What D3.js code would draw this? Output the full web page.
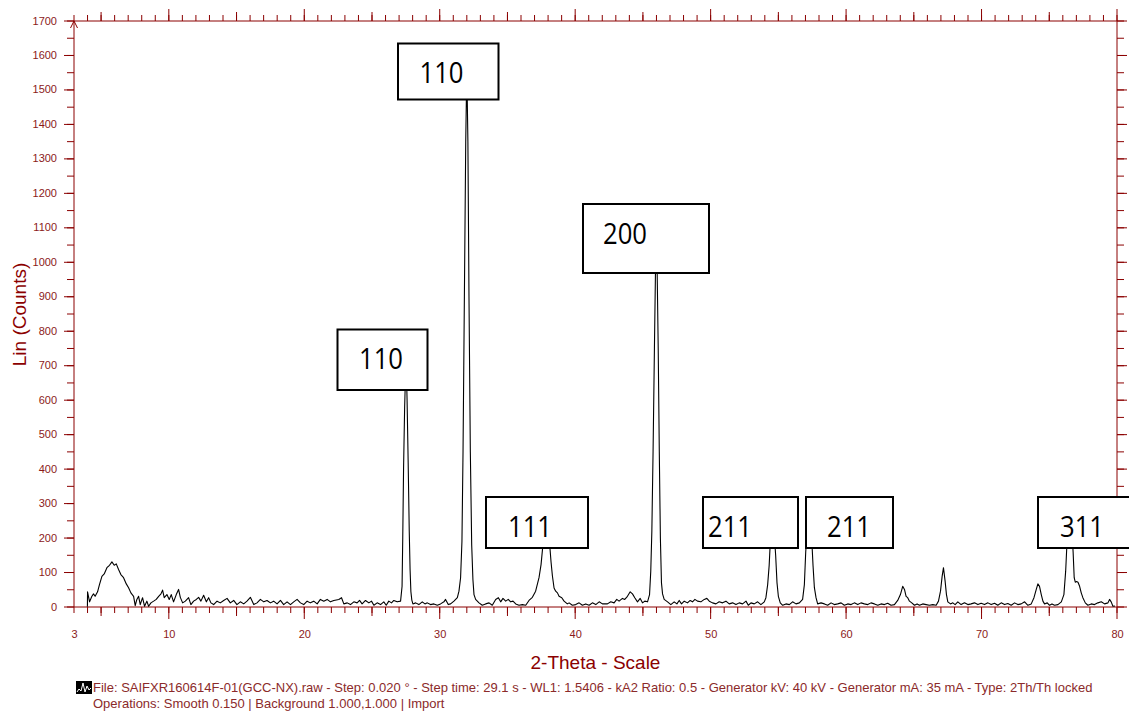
<!DOCTYPE html>
<html>
<head>
<meta charset="utf-8">
<title>XRD pattern</title>
<script src="https://cdn.jsdelivr.net/npm/d3@7"></script>
<style>
  body { margin: 0; background: #fff; }
  svg { display: block; }
  .axis text { font-family: "Liberation Sans", Arial, sans-serif; font-size: 11px; fill: #8b1a1a; }
  .axis line { stroke: #8b0000; }
</style>
</head>
<body>
<div id="chart"></div>
<script>
var scanLow = [
  [3.99,1],[4.00,44],[4.15,15],[4.32,31],[4.44,38],[4.56,31],[4.74,44],[4.88,65],[5.06,89],[5.23,96],
  [5.43,114],[5.62,121],[5.80,131],[5.97,121],[6.12,125],[6.29,109],[6.46,94],[6.66,85],[6.86,67],[7.03,56],
  [7.20,41],[7.40,31],[7.52,4],[7.64,22],[7.77,31],[7.89,7],[8.06,27],[8.21,2],[8.38,17],[8.51,2],
  [8.68,12],[8.88,17],[9.07,22],[9.25,31],[9.42,38],[9.54,49],[9.66,27],[9.86,36],[10.03,22],[10.18,36],
  [10.35,15],[10.55,36],[10.72,51],[10.85,28],[11.02,12],[11.22,17],[11.46,27],[11.63,7],[11.83,17],[12.03,22],
  [12.20,28],[12.37,17],[12.57,34],[12.77,15],[12.94,27],[13.11,12],[13.31,7],[13.56,17],[13.80,12],[14.05,19],
  [14.30,25],[14.54,12],[14.79,19],[15.03,7],[15.28,15],[15.53,9],[15.77,17],[16.02,28],[16.27,7],[16.51,12],
  [16.76,22],[17.01,15],[17.25,19],[17.50,12],[17.74,17],[17.99,9],[18.24,19],[18.48,7],[18.73,15],[18.98,7],
  [19.22,15],[19.47,22],[19.72,12],[19.96,7],[20.21,17],[20.45,12],[20.70,17],[20.95,9],[21.19,22],[21.44,17],
  [21.69,22],[21.93,15],[22.18,19]
];
var scanMid = [
  [22.55,22],[22.75,27],[22.92,9],[23.17,12],[23.41,7],[23.66,15],[23.90,12],[24.08,19],[24.27,9],[24.52,19],
  [24.77,12],[24.96,17],[25.14,5],[25.38,12],[25.63,7],[25.87,15],[26.05,5],[26.24,17],[26.44,12],[26.61,19],
  [26.86,15],[27.11,17],[27.22,60],[27.27,200],[27.33,400],[27.41,580],[27.48,680],[27.53,700],[27.59,600],[27.67,420],
  [27.75,220],[27.81,110],[27.87,45],[27.94,20],[28.02,9],[28.22,12],[28.46,7],[28.71,15],[28.91,9],[29.08,12],
  [29.32,7],[29.57,9],[29.82,5],[30.06,9],[30.31,15],[30.43,22],[30.63,7],[30.80,9],[31.05,17],[31.30,27],
  [31.42,46],[31.54,85],[31.64,190],[31.72,450],[31.82,900],[31.92,1350],[32.00,1560],[32.08,1350],[32.16,900],[32.26,450],
  [32.36,180],[32.45,80],[32.53,36],[32.65,22],[32.90,12],[33.14,5],[33.39,9],[33.64,12],[33.88,5],[34.13,22],
  [34.33,27],[34.50,15],[34.67,25],[34.87,17],[35.06,22],[35.24,15],[35.41,17],[35.61,9],[35.85,5],[36.10,7],
  [36.35,5],[36.59,19],[36.84,28],[37.08,46],[37.33,85],[37.48,123],[37.63,185],[37.75,225],[37.87,240],[38.00,225],
  [38.12,180],[38.22,130],[38.32,90],[38.44,55],[38.56,46],[38.69,41],[38.81,31],[39.01,27],[39.18,17],[39.42,9],
  [39.55,12],[39.79,5],[40.04,7],[40.29,12],[40.53,5],[40.78,9],[41.03,5],[41.27,12],[41.52,7],[41.77,15],
  [42.01,9]
];
var scanHigh = [
  [42.38,9],[42.63,15],[42.87,12],[43.07,22],[43.24,17],[43.49,25],[43.66,22],[43.86,31],[44.06,44],[44.23,38],
  [44.40,27],[44.60,15],[44.80,25],[44.97,12],[45.14,17],[45.34,15],[45.49,36],[45.58,104],[45.66,220],[45.75,450],
  [45.85,750],[45.93,980],[45.99,1060],[46.05,980],[46.13,750],[46.21,450],[46.29,200],[46.37,70],[46.45,38],[46.57,22],
  [46.82,15],[47.06,7],[47.31,15],[47.51,9],[47.68,19],[47.85,9],[48.05,17],[48.29,12],[48.49,19],[48.66,15],
  [48.84,22],[49.03,17],[49.28,15],[49.53,22],[49.72,25],[49.90,17],[50.14,12],[50.39,9],[50.63,15],[50.88,12],
  [51.13,17],[51.37,9],[51.62,12],[51.87,7],[52.11,12],[52.36,9],[52.61,17],[52.78,5],[52.98,12],[53.22,9],
  [53.47,15],[53.71,7],[53.96,15],[54.08,27],[54.21,65],[54.32,120],[54.42,200],[54.52,240],[54.60,245],[54.70,210],
  [54.80,150],[54.90,70],[55.00,31],[55.14,12],[55.32,5],[55.56,9],[55.81,7],[56.05,15],[56.30,9],[56.55,12],
  [56.79,22],[56.92,65],[57.02,160],[57.12,220],[57.24,250],[57.34,250],[57.46,200],[57.56,120],[57.66,56],[57.78,27],
  [57.90,9],[58.15,12],[58.40,9],[58.64,5],[58.89,12],[59.13,7],[59.38,9],[59.63,12],[59.87,5],[60.12,9],
  [60.37,7],[60.61,12],[60.86,7],[61.10,12]
];
var scanTail = [
  [61.35,9],[61.60,7],[61.84,12],[62.09,9],[62.34,5],[62.58,9],[62.83,7],[63.07,11],[63.32,5],[63.57,7],
  [63.81,19],[64.01,36],[64.18,60],[64.31,51],[64.43,31],[64.55,27],[64.68,17],[64.85,12],[65.05,5],[65.24,9],
  [65.42,5],[65.66,9],[65.91,7],[66.15,5],[66.40,7],[66.65,5],[66.82,17],[66.97,46],[67.09,89],[67.19,114],
  [67.31,75],[67.41,36],[67.51,15],[67.71,9],[67.88,12],[68.05,7],[68.25,15],[68.49,7],[68.74,12],[68.99,7],
  [69.23,9],[69.48,12],[69.73,7],[69.97,11],[70.22,7],[70.47,12],[70.71,7],[70.96,11],[71.20,5],[71.45,12],
  [71.70,7],[71.94,10],[72.19,5],[72.44,12],[72.68,7],[72.93,9],[73.18,15],[73.42,5],[73.67,9],[73.87,27],
  [74.04,51],[74.16,67],[74.28,60],[74.41,36],[74.53,17],[74.65,9],[74.85,12],[75.02,5],[75.20,9],[75.39,5],
  [75.64,7],[75.89,15],[76.08,36],[76.21,104],[76.30,180],[76.40,240],[76.50,270],[76.58,270],[76.66,230],[76.76,160],
  [76.84,85],[76.92,72],[77.02,74],[77.12,72],[77.24,60],[77.36,41],[77.48,27],[77.66,12],[77.85,5],[78.10,9],
  [78.34,7],[78.59,12],[78.84,15],[79.08,9],[79.33,12],[79.45,22],[79.57,15],[79.70,2],[79.85,3]
];

// peak labels (hkl) in scan order
var peakLabels = ['110', '110', '111', '200', '211', '211', '311'];

// axis labels
var xTickLabels = [3, 10, 20, 30, 40, 50, 60, 70, 80];
var yTickLabels = d3.range(0, 1701, 100);

var footerLines = [
  'File: SAIFXR160614F-01(GCC-NX).raw - Step: 0.020 ° - Step time: 29.1 s - WL1: 1.5406 - kA2 Ratio: 0.5 - Generator kV: 40 kV - Generator mA: 35 mA - Type: 2Th/Th locked',
  'Operations: Smooth 0.150 | Background 1.000,1.000 | Import'
];

// where the label boxes sit on the page (pixels) and where the text starts in them
var boxLayout = [
  { x: 337.5, y: 329.5, w: 90,    h: 60.5, tx: 359 },
  { x: 398,   y: 43.5,  w: 100.5, h: 56,   tx: 419.5 },
  { x: 486,   y: 497,   w: 102,   h: 51,   tx: 508 },
  { x: 583,   y: 204,   w: 126,   h: 69,   tx: 603 },
  { x: 703,   y: 497,   w: 95,    h: 51,   tx: 708 },
  { x: 806,   y: 497,   w: 87,    h: 51,   tx: 827 },
  { x: 1038,  y: 497,   w: 92,    h: 51,   tx: 1060 }
];

var width = 1129, height = 711;
var axisColor = '#8b0000';

var x = d3.scaleLinear().domain([3, 80]).range([74, 1117]);
var y = d3.scaleLinear().domain([0, 1700]).range([607, 21]);

var svg = d3.select('#chart').append('svg')
  .attr('width', width)
  .attr('height', height);

// tick sets
var deg1 = d3.range(3, 81);
var deg5 = deg1.filter(function (d) { return d % 5 === 0 && d % 10 !== 0; });
var deg10 = deg1.filter(function (d) { return d % 10 === 0; });
var c50 = d3.range(0, 1701, 50);

function ticks(axis, tx, ty) {
  var g = svg.append('g')
    .attr('class', 'axis')
    .attr('transform', 'translate(' + tx + ',' + ty + ')')
    .call(axis);
  g.select('.domain').remove();
  return g;
}

// bottom and top: 1, 5, 10 degree ticks
[[deg1, 6], [deg5, 9], [deg10, 12]].forEach(function (t) {
  ticks(d3.axisBottom(x).tickValues(t[0]).tickSize(t[1]).tickFormat('').offset(0), 0, y(0));
  ticks(d3.axisTop(x).tickValues(t[0]).tickSize(t[1]).tickFormat('').offset(0), 0, y(1700));
});
ticks(d3.axisBottom(x).tickValues(xTickLabels).tickSize(0).tickPadding(23).tickFormat(d3.format('d')), 0, y(0));

// left and right: every 50 counts, longer at the hundreds
ticks(d3.axisLeft(y).tickValues(c50).tickSize(7).tickFormat('').offset(0), x(3), 0);
ticks(d3.axisLeft(y).tickValues(yTickLabels).tickSize(10).tickPadding(7).tickFormat(d3.format('d')).offset(0), x(3), 0);
ticks(d3.axisRight(y).tickValues(c50).tickSize(7).tickFormat('').offset(0), x(80), 0);
ticks(d3.axisRight(y).tickValues(yTickLabels).tickSize(10).tickFormat('').offset(0), x(80), 0);

// frame
var frame = svg.append('g').attr('stroke', axisColor).attr('fill', 'none');
frame.append('line').attr('x1', x(3)).attr('x2', x(3)).attr('y1', y(0)).attr('y2', y(1700));
frame.append('line').attr('x1', x(80)).attr('x2', x(80)).attr('y1', y(0)).attr('y2', y(1700));
frame.append('line').attr('x1', x(3)).attr('x2', x(80)).attr('y1', y(0)).attr('y2', y(0));
frame.append('line').attr('x1', x(3)).attr('x2', x(80)).attr('y1', y(1700)).attr('y2', y(1700));
frame.append('path')
  .attr('d', 'M' + (x(3) - 3.5) + ',' + (y(1700) + 7) + 'L' + x(3) + ',' + y(1700) + 'L' + (x(3) + 3.5) + ',' + (y(1700) + 7));

// the scan
var scan = scanLow.concat(scanMid, scanHigh, scanTail);
var line = d3.line()
  .x(function (d) { return x(d[0]); })
  .y(function (d) { return y(d[1]); });

svg.append('path')
  .datum(scan)
  .attr('d', line)
  .attr('fill', 'none')
  .attr('stroke', '#000')
  .attr('stroke-width', 1.1)
  .attr('stroke-linejoin', 'round');

// label boxes over the peaks
var boxes = svg.selectAll('.peakbox')
  .data(peakLabels)
  .enter()
  .append('g')
  .attr('class', 'peakbox');

boxes.append('rect')
  .attr('x', function (d, i) { return boxLayout[i].x; })
  .attr('y', function (d, i) { return boxLayout[i].y; })
  .attr('width', function (d, i) { return boxLayout[i].w; })
  .attr('height', function (d, i) { return boxLayout[i].h; })
  .attr('fill', '#fff')
  .attr('stroke', '#000')
  .attr('stroke-width', 2);

// text sits a fixed distance below the box top
boxes.append('text')
  .attr('x', function (d, i) { return boxLayout[i].tx; })
  .attr('y', function (d, i) { return boxLayout[i].y + 39.5; })
  .attr('textLength', 44)
  .attr('lengthAdjust', 'spacingAndGlyphs')
  .style('font-family', '"Open Sans", "Noto Sans", sans-serif')
  .style('font-size', '29px')
  .attr('fill', '#000')
  .text(function (d) { return d; });

// axis titles
svg.append('text')
  .attr('x', 595.5)
  .attr('y', 669)
  .attr('text-anchor', 'middle')
  .style('font-family', '"Liberation Sans", Arial, sans-serif')
  .style('font-size', '19px')
  .attr('fill', axisColor)
  .text('2-Theta - Scale');

svg.append('text')
  .attr('transform', 'translate(26,314.5) rotate(-90)')
  .attr('text-anchor', 'middle')
  .style('font-family', '"Liberation Sans", Arial, sans-serif')
  .style('font-size', '19px')
  .attr('fill', axisColor)
  .text('Lin (Counts)');

// footer with the little scan icon
var icon = svg.append('g').attr('transform', 'translate(76,681)');
icon.append('rect').attr('width', 16).attr('height', 13).attr('fill', '#000');
icon.append('path')
  .attr('d', 'M1,11 L3,8 L5,10 L7,2 L9,11 L11,5 L13,9 L15,7')
  .attr('fill', 'none')
  .attr('stroke', '#fff')
  .attr('stroke-width', 1);

svg.selectAll('.footer')
  .data(footerLines)
  .enter()
  .append('text')
  .attr('class', 'footer')
  .attr('x', 93)
  .attr('y', function (d, i) { return 692 + i * 16; })
  .style('font-family', '"Liberation Sans", Arial, sans-serif')
  .style('font-size', '13px')
  .attr('fill', '#8b2a2a')
  .text(function (d) { return d; });
</script>
</body>
</html>
